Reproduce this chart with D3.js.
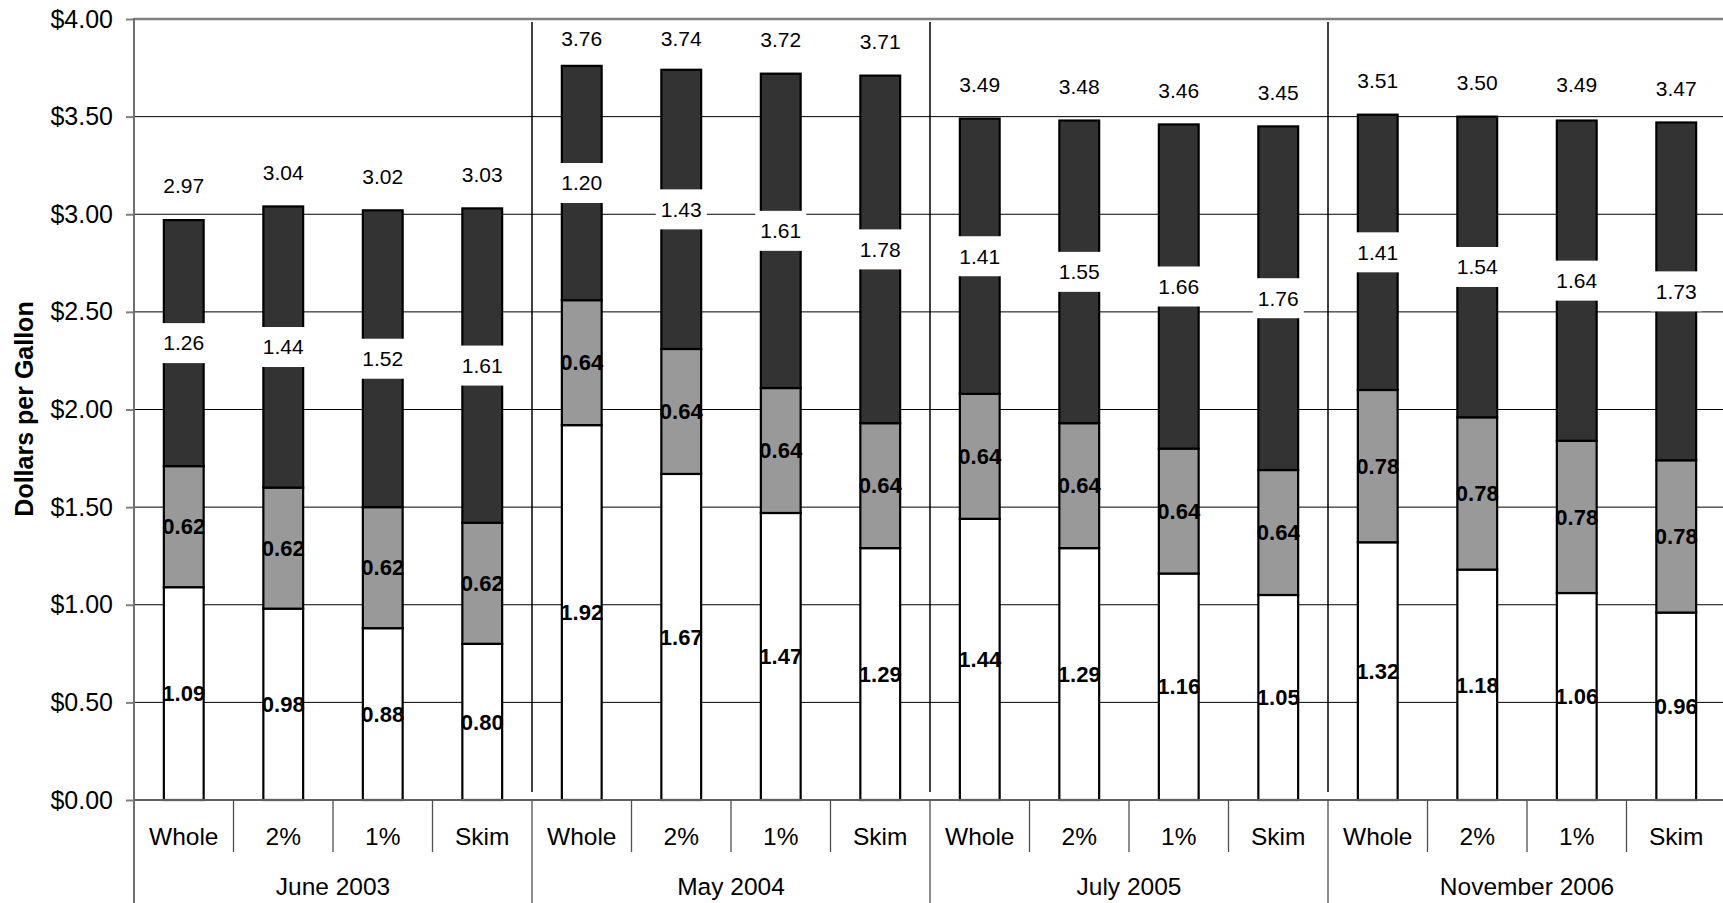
<!DOCTYPE html>
<html>
<head>
<meta charset="utf-8">
<script src="https://cdn.jsdelivr.net/npm/d3@7"></script>
<style>
  html, body { margin: 0; padding: 0; background: #fff; }
  svg { display: block; font-family: Arial, "Liberation Sans", sans-serif; }
</style>
</head>
<body>
<svg id="chart" width="1723" height="903"></svg>
<script>
// Survey dates and milk types (one bar per date × type)
const groups = ["June 2003", "May 2004", "July 2005", "November 2006"];
const milkTypes = ["Whole", "2%", "1%", "Skim"];

// Stacked components, in group order then type order
const lowerValues  = [1.09, 0.98, 0.88, 0.80,  1.92, 1.67, 1.47, 1.29,  1.44, 1.29, 1.16, 1.05,  1.32, 1.18, 1.06, 0.96];
const middleValues = [0.62, 0.62, 0.62, 0.62,  0.64, 0.64, 0.64, 0.64,  0.64, 0.64, 0.64, 0.64,  0.78, 0.78, 0.78, 0.78];
const upperValues  = [1.26, 1.44, 1.52, 1.61,  1.20, 1.43, 1.61, 1.78,  1.41, 1.55, 1.66, 1.76,  1.41, 1.54, 1.64, 1.73];
const totalLabels  = [2.97, 3.04, 3.02, 3.03,  3.76, 3.74, 3.72, 3.71,  3.49, 3.48, 3.46, 3.45,  3.51, 3.50, 3.49, 3.47];

const yTickValues = [0, 0.5, 1, 1.5, 2, 2.5, 3, 3.5, 4];
const yTitle = "Dollars per Gallon";

(function draw() {
  const rows = [];
  groups.forEach((g, gi) => milkTypes.forEach((t, ti) => {
    const i = gi * milkTypes.length + ti;
    rows.push({ key: g + "|" + t, group: g, type: t,
      lower: lowerValues[i], middle: middleValues[i], upper: upperValues[i], total: totalLabels[i] });
  }));

  const svg = d3.select("#chart");
  const plotLeft = 134, plotRight = 1726, plotTop = 19, plotBottom = 800;

  const x = d3.scaleBand().domain(rows.map(d => d.key)).range([plotLeft, plotRight])
    .paddingInner(0.6).paddingOuter(0.3);
  const step = x.step();
  const y = d3.scaleLinear().domain([0, 4]).range([plotBottom, plotTop]);

  const series = d3.stack().keys(["lower", "middle", "upper"])(rows);
  const fills = { lower: "#ffffff", middle: "#999999", upper: "#333333" };

  // horizontal gridlines
  svg.append("g").selectAll("line")
    .data(yTickValues.filter(v => v > 0 && v < 4))
    .join("line")
    .attr("x1", plotLeft).attr("x2", plotRight)
    .attr("y1", d => y(d)).attr("y2", d => y(d))
    .attr("stroke", "#000").attr("stroke-width", 1);

  // top border of the plot
  svg.append("line")
    .attr("x1", plotLeft).attr("x2", plotRight)
    .attr("y1", y(4)).attr("y2", y(4))
    .attr("stroke", "#808080").attr("stroke-width", 2.5);

  // dividers between survey dates inside the plot
  const groupBounds = groups.slice(1).map((g, i) => plotLeft + (i + 1) * milkTypes.length * step);
  svg.append("g").selectAll("line")
    .data(groupBounds)
    .join("line")
    .attr("x1", d => d).attr("x2", d => d)
    .attr("y1", plotTop + 3).attr("y2", plotBottom - 8)
    .attr("stroke", "#000").attr("stroke-width", 1.5);

  // stacked bars
  svg.append("g").selectAll("g")
    .data(series)
    .join("g")
    .attr("fill", s => fills[s.key])
    .selectAll("rect")
    .data(s => s)
    .join("rect")
    .attr("x", d => x(d.data.key))
    .attr("width", x.bandwidth())
    .attr("y", d => y(d[1]))
    .attr("height", d => y(d[0]) - y(d[1]))
    .attr("stroke", "#000").attr("stroke-width", 2.2);

  const cx = d => x(d.key) + x.bandwidth() / 2;

  // bold labels for the lower and middle segments
  ["lower", "middle"].forEach((k, si) => {
    svg.append("g").selectAll("text")
      .data(series[si])
      .join("text")
      .attr("x", d => cx(d.data))
      .attr("y", d => y((d[0] + d[1]) / 2))
      .attr("dy", "0.35em")
      .attr("text-anchor", "middle")
      .attr("font-size", 22).attr("font-weight", "bold")
      .text(d => d.data[k].toFixed(2));
  });

  // boxed labels for the upper segment
  const upperLabels = svg.append("g").selectAll("g")
    .data(series[2])
    .join("g")
    .attr("transform", d => `translate(${cx(d.data)},${y((d[0] + d[1]) / 2)})`);
  upperLabels.append("rect")
    .attr("x", -25.5).attr("y", -20).attr("width", 51).attr("height", 40)
    .attr("fill", "#fff");
  upperLabels.append("text")
    .attr("dy", "0.35em").attr("text-anchor", "middle")
    .attr("font-size", 21)
    .text(d => d.data.upper.toFixed(2));

  // totals above each bar, kept inside the plot
  svg.append("g").selectAll("text")
    .data(rows)
    .join("text")
    .attr("x", cx)
    .attr("y", d => Math.max(y(d.total) - 34, plotTop + 20))
    .attr("dy", "0.35em")
    .attr("text-anchor", "middle")
    .attr("font-size", 21)
    .text(d => d.total.toFixed(2));

  // value axis
  const yAxis = svg.append("g")
    .attr("transform", `translate(${plotLeft},0)`)
    .call(d3.axisLeft(y).tickValues(yTickValues).tickFormat(d3.format("$.2f"))
      .tickSize(8).tickPadding(13).tickSizeOuter(0));
  yAxis.select(".domain").remove();
  yAxis.selectAll(".tick line").attr("stroke", "#808080").attr("stroke-width", 2);
  yAxis.selectAll(".tick text").attr("font-size", 25).attr("fill", "#000")
    .attr("font-family", "Arial, 'Liberation Sans', sans-serif");
  svg.append("line")
    .attr("x1", plotLeft).attr("x2", plotLeft).attr("y1", plotTop - 1).attr("y2", 903)
    .attr("stroke", "#707070").attr("stroke-width", 2);

  // category axis: baseline, dividers and two rows of labels
  svg.append("line")
    .attr("x1", plotLeft).attr("x2", plotRight).attr("y1", plotBottom).attr("y2", plotBottom)
    .attr("stroke", "#606060").attr("stroke-width", 2);

  const slotBounds = d3.range(1, rows.length).map(i => plotLeft + i * step);
  svg.append("g").selectAll("line")
    .data(slotBounds)
    .join("line")
    .attr("x1", d => d).attr("x2", d => d)
    .attr("y1", plotBottom)
    .attr("y2", (d, i) => ((i + 1) % milkTypes.length === 0) ? 903 : 852)
    .attr("stroke", "#505050").attr("stroke-width", 1.3);

  svg.append("g").selectAll("text")
    .data(rows)
    .join("text")
    .attr("x", d => cx(d))
    .attr("y", 845)
    .attr("text-anchor", "middle")
    .attr("font-size", 24.5)
    .text(d => d.type);

  svg.append("g").selectAll("text")
    .data(groups)
    .join("text")
    .attr("x", (g, i) => plotLeft + (i + 0.5) * milkTypes.length * step)
    .attr("y", 895)
    .attr("text-anchor", "middle")
    .attr("font-size", 24.5)
    .text(g => g);

  // value axis title
  svg.append("text")
    .attr("transform", "translate(33,409) rotate(-90)")
    .attr("text-anchor", "middle")
    .attr("font-size", 25).attr("font-weight", "bold")
    .text(yTitle);
})();
</script>
</body>
</html>
